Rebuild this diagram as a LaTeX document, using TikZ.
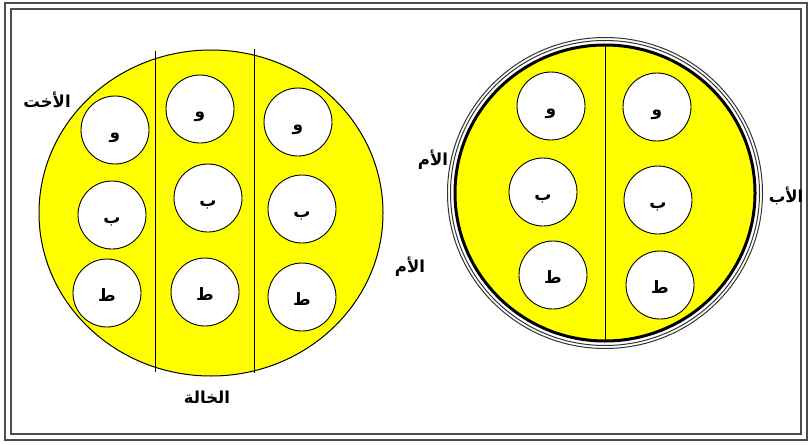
\documentclass[tikz,border=0pt]{standalone}
\usepackage{fontspec}
\usetikzlibrary{shapes.geometric}
\newfontfamily\arabicfont[Script=Arabic]{DejaVu Sans}
\TeXXeTstate=1
\definecolor{fillyel}{RGB}{255,255,0}
\newcommand{\cellltr}[1]{\raisebox{-8pt}[0pt][0pt]{\beginR #1\endR}}
\tikzset{
  cell/.style={circle, draw=black, fill=white, minimum size=68pt, inner sep=0pt, line width=0.9pt,
    font=\arabicfont\bfseries\fontsize{17}{17}\selectfont},
  lbl/.style={inner sep=0pt, font=\arabicfont\bfseries\fontsize{16.5}{16.5}\selectfont},
  framel/.style={draw=black!70, line width=1.5pt},
  divl/.style={draw=black, line width=1pt}
}
\begin{document}
\begin{tikzpicture}[x=1pt,y=-1pt]
\useasboundingbox (0,0) rectangle (810,444);
% frame
\draw[framel] (5,3) rectangle (807,440);
\draw[framel] (11,9) rectangle (801,434);
% left ellipse
\node[ellipse, draw=black, fill=fillyel, line width=1pt, minimum width=344pt, minimum height=326pt, inner sep=0pt] (leftell) at (211,213) {};
\coordinate (l1t) at (155,51); \coordinate (l1b) at (155,372);
\coordinate (l2t) at (254,49); \coordinate (l2b) at (254,373);
\draw[divl] (l1t) -- (l1b);
\draw[divl] (l2t) -- (l2b);
% right ellipse
\node[ellipse, draw=black, fill=fillyel, line width=3pt, minimum width=300pt, minimum height=296pt, inner sep=0pt] (rightell) at (605,193) {};
\node[ellipse, draw=black!80, line width=1pt, minimum width=309pt, minimum height=305pt, inner sep=0pt] (rightmid) at (605,193) {};
\node[ellipse, draw=black!80, line width=1pt, minimum width=315pt, minimum height=311pt, inner sep=0pt] (rightout) at (605,193) {};
\coordinate (r1t) at (605,46); \coordinate (r1b) at (605,340);
\draw[divl] (r1t) -- (r1b);
% left ellipse cells
\node[cell] (a1) at (115,130) {\cellltr{و}};
\node[cell] (a2) at (112,215) {\cellltr{ب}};
\node[cell] (a3) at (107,293) {\cellltr{ط}};
\node[cell] (b1) at (200,109) {\cellltr{و}};
\node[cell] (b2) at (208,198) {\cellltr{ب}};
\node[cell] (b3) at (205,292) {\cellltr{ط}};
\node[cell] (c1) at (298,122) {\cellltr{و}};
\node[cell] (c2) at (302,209) {\cellltr{ب}};
\node[cell] (c3) at (302,297) {\cellltr{ط}};
% right ellipse cells
\node[cell] (d1) at (551,106) {\cellltr{و}};
\node[cell] (d2) at (543,192) {\cellltr{ب}};
\node[cell] (d3) at (553,275) {\cellltr{ط}};
\node[cell] (e1) at (657,107) {\cellltr{و}};
\node[cell] (e2) at (658,200) {\cellltr{ب}};
\node[cell] (e3) at (660,285) {\cellltr{ط}};
% labels
\node[lbl] (sister) at (47,100) {\beginR الأخت\endR};
\node[lbl] (aunt) at (207,397) {\beginR الخالة\endR};
\node[lbl] (mother1) at (410,267) {\beginR الأم\endR};
\node[lbl] (mother2) at (433,160) {\beginR الأم\endR};
\node[lbl] (father) at (786,196) {\beginR الأب\endR};
\end{tikzpicture}
\end{document}
